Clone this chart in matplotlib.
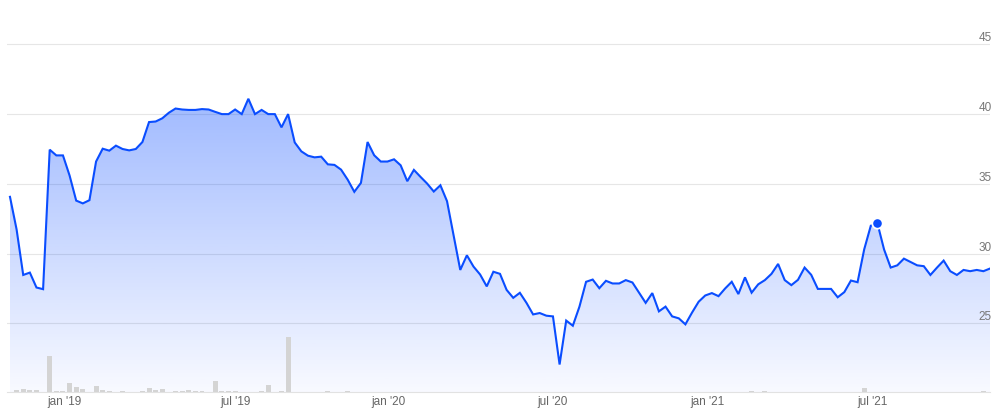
import numpy as np
import matplotlib.pyplot as plt
from matplotlib.colors import to_rgb

# weekly closing price
price = [
    34.07, 31.73, 28.47, 28.64, 27.57, 27.45, 37.45, 37.04, 37.04, 35.6,
    33.8, 33.6, 33.83, 36.6, 37.52, 37.38, 37.74, 37.5, 37.4, 37.5,
    38.0, 39.43, 39.47, 39.7, 40.1, 40.4, 40.33, 40.3, 40.3, 40.36,
    40.33, 40.16, 40.0, 40.0, 40.33, 40.0, 41.1, 40.0, 40.3, 40.0,
    40.0, 39.05, 40.0, 37.97, 37.33, 37.02, 36.9, 36.95, 36.4, 36.36,
    36.02, 35.3, 34.43, 35.07, 38.0, 37.05, 36.6, 36.6, 36.76, 36.33,
    35.19, 36.0, 35.5, 35.02, 34.45, 34.9, 33.76, 31.3, 28.83, 29.88,
    29.07, 28.5, 27.65, 28.7, 28.55, 27.4, 26.83, 27.19, 26.47, 25.64,
    25.74, 25.55, 25.5, 22.05, 25.2, 24.83, 26.2, 27.98, 28.14, 27.52,
    28.05, 27.86, 27.86, 28.1, 27.93, 27.2, 26.47, 27.17, 25.86, 26.2,
    25.5, 25.36, 24.93, 25.77, 26.55, 27.0, 27.17, 26.95, 27.5, 27.98,
    27.1, 28.3, 27.2, 27.8, 28.1, 28.55, 29.26, 28.1, 27.74, 28.12,
    29.0, 28.48, 27.47, 27.47, 27.47, 26.87, 27.24, 28.07, 27.95, 30.3,
    32.0, 32.17, 30.3, 29.0, 29.16, 29.64, 29.4, 29.16, 29.1, 28.47,
    29.0, 29.5, 28.74, 28.47, 28.83, 28.74, 28.83, 28.74, 28.93,
]

# traded volume (thousands) for the weeks that show a bar
volume_week = [1, 2, 3, 4, 6, 7, 8, 9, 10, 11, 13, 14, 15, 17, 20, 21, 22, 23,
               25, 26, 27, 28, 29, 31, 32, 33, 34, 38, 39, 41, 42, 48, 51,
               112, 114, 129, 147]
volume_k = [85, 150, 100, 100, 1800, 50, 50, 465, 250, 150, 300, 100, 50, 50,
            50, 200, 100, 150, 50, 50, 100, 50, 50, 550, 50, 50, 50, 50, 350,
            50, 2750, 50, 50, 50, 50, 200, 50]

tick_labels = ["jan '19", "jul '19", "jan '20", "jul '20", "jan '21", "jul '21"]
tick_pos = [8.2, 34.0, 57.2, 82.0, 105.3, 130.2]
price_ticks = [25, 30, 35, 40, 45]
marker_week = 131

blue = "#0a4dff"
x = np.arange(len(price))
y_lo, y_hi = 20.08, 48.18

fig = plt.figure(figsize=(9.98, 4.15), dpi=100)
ax = fig.add_axes([7 / 998, 23 / 415, 983 / 998, 392 / 415])
ax.set_xlim(-0.45, len(price) - 1)
ax.set_ylim(y_lo, y_hi)

# gradient under the line
poly = ax.fill_between(x, price, y_lo, color="none", lw=0)
grad = np.zeros((256, 1, 4))
grad[:, 0, :3] = to_rgb("#0046ff")
grad[:, 0, 3] = np.linspace(0.03, 0.38, 256)
img = ax.imshow(grad, extent=[x[0], x[-1], y_lo, 41.5], origin="lower",
                aspect="auto", zorder=1)
img.set_clip_path(poly.get_paths()[0], transform=ax.transData)

ax.plot(x, price, color=blue, lw=1.5, zorder=3, solid_joinstyle="miter")
ax.plot(x[marker_week], price[marker_week], "o", color=blue, ms=7.5,
        mec="white", mew=1.3, zorder=4)

for t in price_ticks:
    ax.axhline(t, color="#e6e6e6", lw=0.8, zorder=0)
    ax.text(1.002, t, str(t), transform=ax.get_yaxis_transform(),
            ha="right", va="bottom", fontsize=8.5, color="#777777",
            family="Liberation Sans")

ax.set_yticks([])
ax.set_xticks(tick_pos)
ax.set_xticklabels(tick_labels, fontsize=8.5, color="#666666",
                   family="Liberation Sans")
ax.tick_params(axis="x", length=0, pad=3)
for s in ["top", "left", "right"]:
    ax.spines[s].set_visible(False)
ax.spines["bottom"].set_color("#e2e2e2")
ax.spines["bottom"].set_linewidth(0.8)

# volume bars on their own scale
vol = np.zeros(len(price))
vol[volume_week] = volume_k
ax2 = ax.twinx()
ax2.bar(x, vol, width=0.75, color="#d4d4d4", zorder=2)
ax2.set_ylim(0, 392 * 50)
ax2.set_xlim(ax.get_xlim())
ax2.axis("off")

fig.savefig("out.png", dpi=100)
